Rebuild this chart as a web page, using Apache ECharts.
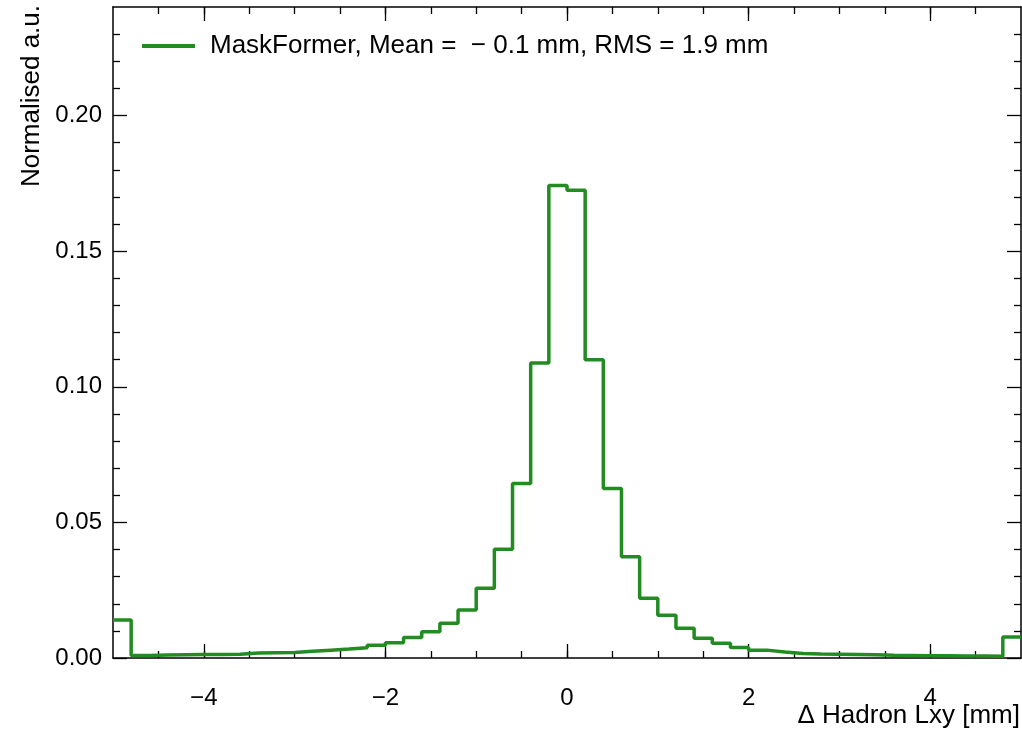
<!DOCTYPE html>
<html>
<head>
    <meta charset="utf-8">
    <title>Hadron Lxy residual</title>
    <script src="https://cdn.jsdelivr.net/npm/echarts@6/dist/echarts.min.js"></script>
    <style>
        html, body { margin: 0; padding: 0; background: #fff; }
    </style>
</head>
<body>
<div id="main" style="width: 1022px;height:729px;"></div>
<script type="text/javascript">

    // histogram: 50 bins of 0.2 mm from -5 to 5
    const binStart = -5
    const binWidth = 0.2
    const binValues = [
        0.0140, 0.0009, 0.0011, 0.0012, 0.0013, 0.0013, 0.0014, 0.0018, 0.0019, 0.0020,
        0.0025, 0.0029, 0.0033, 0.0038, 0.0047, 0.0056, 0.0076, 0.0097, 0.0128, 0.0177,
        0.0257, 0.0401, 0.0643, 0.1088, 0.1742,
        0.1724, 0.1100, 0.0625, 0.0373, 0.0220, 0.0158, 0.0110, 0.0073, 0.0054, 0.0039,
        0.0029, 0.0022, 0.0017, 0.0015, 0.0014, 0.0013, 0.0012, 0.0010, 0.0009, 0.0008,
        0.0008, 0.0007, 0.0007, 0.0006, 0.0077
    ]
    const seriesName = 'MaskFormer, Mean =  \u2212 0.1 mm, RMS = 1.9 mm'

    // tick positions
    const xMajor = [-4, -2, 0, 2, 4]
    const xMinor = [-4.5, -4, -3.5, -3, -2.5, -2, -1.5, -1, -0.5, 0, 0.5, 1, 1.5, 2, 2.5, 3, 3.5, 4, 4.5]
    const yMajor = [0, 0.05, 0.10, 0.15, 0.20]
    const yMinor = [0.01, 0.02, 0.03, 0.04, 0.06, 0.07, 0.08, 0.09, 0.11, 0.12, 0.13, 0.14,
        0.16, 0.17, 0.18, 0.19, 0.21, 0.22, 0.23]

    const font = '"Liberation Sans", Arial, sans-serif'
    const green = '#228B22'

    // step points at the left edge of each bin, plus the closing right edge
    var points = []
    for (var i = 0; i < binValues.length; i++) {
        points.push([+(binStart + i * binWidth).toFixed(2), binValues[i]])
    }
    points.push([+(binStart + binValues.length * binWidth).toFixed(2), binValues[binValues.length - 1]])

    function xAxisOf(pos, ticks, len, withLine, withLabels) {
        return {
            type: 'value', min: -5, max: 5, position: pos,
            axisLine: {show: withLine, onZero: false, lineStyle: {color: '#000', width: 1.5}},
            axisTick: {show: true, inside: true, length: len, customValues: ticks,
                lineStyle: {color: '#000', width: 1.3}},
            axisLabel: withLabels ? {
                customValues: xMajor, margin: 28, fontSize: 24, color: '#000', fontFamily: font,
                formatter: function (v) { return v < 0 ? '\u2212' + Math.abs(v) : '' + v }
            } : {show: false},
            splitLine: {show: false}
        }
    }
    function yAxisOf(pos, ticks, len, withLine, withLabels) {
        return {
            type: 'value', min: 0, max: 0.24, position: pos,
            axisLine: {show: withLine, onZero: false, lineStyle: {color: '#000', width: 1.5}},
            axisTick: {show: true, inside: true, length: len, customValues: ticks,
                lineStyle: {color: '#000', width: 1.3}},
            axisLabel: withLabels ? {
                customValues: yMajor, margin: 11, fontSize: 24, color: '#000', fontFamily: font,
                formatter: function (v) { return v.toFixed(2) }
            } : {show: false},
            splitLine: {show: false}
        }
    }

    var myChart = echarts.init(document.getElementById('main'))
    var option = {
        animation: false,
        backgroundColor: '#fff',
        grid: {left: 113, right: 1, top: 7, bottom: 71},
        legend: {
            data: [{name: seriesName, icon: 'rect'}],
            left: 137, top: 28,
            itemWidth: 53, itemHeight: 4,
            textStyle: {fontSize: 26, color: '#000', fontFamily: font, padding: [0, 0, 0, 10]}
        },
        xAxis: [
            xAxisOf('bottom', xMajor, 14, true, true),
            xAxisOf('bottom', xMinor, 7, false, false),
            xAxisOf('top', xMajor, 14, true, false),
            xAxisOf('top', xMinor, 7, false, false)
        ],
        yAxis: [
            yAxisOf('left', yMajor, 14, true, true),
            yAxisOf('left', yMinor, 7, false, false),
            yAxisOf('right', yMajor, 14, true, false),
            yAxisOf('right', yMinor, 7, false, false)
        ],
        series: [{
            name: seriesName,
            type: 'line',
            step: 'end',
            xAxisIndex: 0,
            yAxisIndex: 0,
            showSymbol: false,
            data: points,
            lineStyle: {color: green, width: 3.5},
            itemStyle: {color: green}
        }],
        graphic: [
            {
                type: 'text', x: 32, y: 5, rotation: Math.PI / 2,
                style: {text: 'Normalised a.u.', fontSize: 26, fill: '#000', fontFamily: font,
                    align: 'right', verticalAlign: 'middle'}
            },
            {
                type: 'text', x: 1020, y: 716,
                style: {text: '\u0394 Hadron Lxy [mm]', fontSize: 26, fill: '#000', fontFamily: font,
                    align: 'right', verticalAlign: 'middle'}
            }
        ]
    }
    myChart.setOption(option)

</script>
</body>
</html>
